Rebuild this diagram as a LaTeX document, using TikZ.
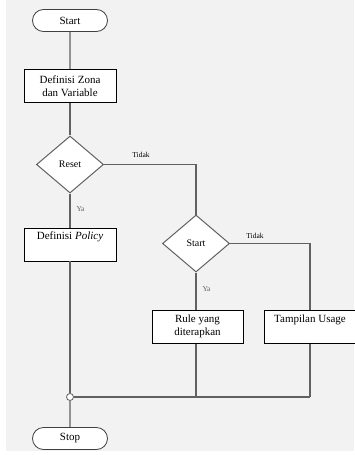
\documentclass[tikz,border=0pt]{standalone}
\usepackage{fontspec}
\setmainfont{Liberation Serif}
\usetikzlibrary{shapes.geometric,shapes.misc}

\begin{document}
\begin{tikzpicture}%
        [x=1pt, y=-1pt,
        line/.style={color=black!62, line width=1.1pt},
        terminal/.style={rounded rectangle, draw=black!75, fill=white, line width=0.8pt,
            minimum width=75pt, minimum height=22pt, inner sep=0pt, font=\fontsize{11}{13}\selectfont},
        process/.style={rectangle, draw=black, fill=white, line width=0.7pt,
            minimum width=92pt, minimum height=33pt, inner sep=2pt, align=center,
            font=\fontsize{11}{13}\selectfont},
        decision/.style={diamond, draw=black!62, fill=white, line width=1pt,
            minimum width=67pt, minimum height=57pt, inner sep=0pt, font=\fontsize{10}{12}\selectfont},
        answer/.style={font=\fontsize{7.5}{9}\selectfont, inner sep=0pt},
        joint/.style={circle, draw=black!62, fill=white, line width=0.8pt, minimum size=7pt, inner sep=0pt}]
    %% Background
    \useasboundingbox (0,0) rectangle (354,455);
    \fill[white] (0,0) rectangle (354,455);
    \fill[black!5] (6,0) rectangle (354,451);
    %% Drawing the nodes
    \node[terminal] (start) at (70,20.5) {Start};
    \node[process] (zona) at (70,86) {Definisi Zona\\dan Variable};
    \node[decision] (reset) at (70,164.5) {Reset};
    \node[process, anchor=north] (policy) at (70,227.5) {Definisi \textit{Policy}\\\strut};
    \node[decision] (mulai) at (196,243.5) {Start};
    \node[process, anchor=north, minimum width=91pt] (rule) at (197.5,310) {Rule yang\\diterapkan};
    \node[process, anchor=north, minimum width=92pt] (usage) at (310,310) {Tampilan Usage\\\strut};
    \node[joint] (titik) at (70,397) {};
    \node[terminal] (stop) at (70,438.5) {Stop};
    %% Corner points
    \coordinate (belok1) at (196,164.5);
    \coordinate (belok2) at (310,243.5);
    \coordinate (bawah2) at (196,397);
    \coordinate (bawah3) at (310,397);
    %% Drawing the connectors
    \draw[line] (start) -- (zona);
    \draw[line] (zona) -- (reset);
    \draw[line] (reset) -- node[answer, pos=0.45, right=6pt] {Ya} (policy);
    \draw[line] (reset.east) -- (belok1) -- (mulai.north);
    \draw[line] (policy) -- (titik);
    \draw[line] (titik) -- (stop);
    \draw[line] (mulai) -- node[answer, pos=0.45, right=6pt] {Ya} (rule.north -| mulai);
    \draw[line] (mulai.east) -- (belok2) -- (usage.north);
    \draw[line] (rule.south -| mulai) -- (bawah2);
    \draw[line] (usage) -- (bawah3);
    \draw[line] (titik) -- (bawah3);
    \node[answer] at (141,154.5) {Tidak};
    \node[answer] at (255,235.5) {Tidak};
    \end{tikzpicture}
\end{document}
